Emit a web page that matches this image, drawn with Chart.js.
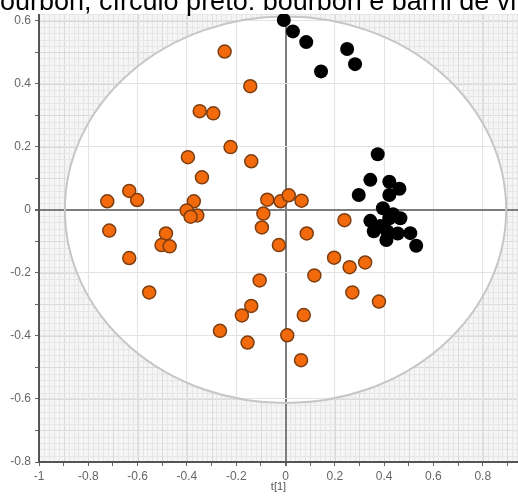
<!DOCTYPE html>
<html>
<head>
<meta charset="utf-8">
<script src="https://cdn.jsdelivr.net/npm/chart.js@4/dist/chart.umd.min.js"></script>
<style>
    html, body { margin: 0; padding: 0; background: #fff; overflow: hidden; }
    #wrap { position: relative; width: 518px; height: 496px; }
    #caption {
        position: absolute; left: -15px; top: -11px;
        font-family: "Liberation Sans", Arial, sans-serif; font-size: 27px; line-height: 25px;
        color: #000; white-space: nowrap; background: #fff; z-index: 2;
    }
</style>
</head>
<body>
<div id="wrap">
    <div id="caption">bourbon, círculo preto: bourbon e barril de vinho</div>
    <canvas id="scoreChart"></canvas>
</div>
<script>
// orange circles: bourbon
const orangeX = [-0.247, -0.143, -0.348, -0.293, -0.223, -0.396, -0.139, -0.339, -0.634, -0.602,
    -0.723, -0.372, -0.401, -0.358, -0.385, -0.074, -0.020, 0.013, 0.065, -0.090,
    -0.096, -0.027, -0.715, -0.485, -0.503, -0.470, -0.634, -0.553, -0.105, -0.139,
    -0.177, -0.266, -0.154, 0.007, 0.086, 0.239, 0.197, 0.260, 0.323, 0.117,
    0.271, 0.379, 0.074, 0.063];
const orangeY = [0.502, 0.392, 0.313, 0.306, 0.199, 0.167, 0.154, 0.103, 0.060, 0.031,
    0.027, 0.027, -0.002, -0.018, -0.022, 0.032, 0.027, 0.046, 0.029, -0.012,
    -0.056, -0.112, -0.066, -0.075, -0.112, -0.116, -0.153, -0.262, -0.224, -0.305,
    -0.335, -0.384, -0.421, -0.398, -0.075, -0.033, -0.152, -0.182, -0.167, -0.208,
    -0.262, -0.291, -0.334, -0.477];

// black circles: bourbon e barril de vinho
const blackX = [-0.007, 0.030, 0.084, 0.250, 0.282, 0.144, 0.374, 0.344, 0.421, 0.462,
    0.421, 0.297, 0.395, 0.436, 0.466, 0.344, 0.385, 0.358, 0.412, 0.455,
    0.506, 0.409, 0.530, 0.421];
const blackY = [0.602, 0.566, 0.532, 0.510, 0.462, 0.439, 0.176, 0.095, 0.089, 0.067,
    0.047, 0.047, 0.005, -0.014, -0.027, -0.035, -0.051, -0.068, -0.068, -0.075,
    -0.074, -0.096, -0.114, -0.027];

// Hotelling ellipse half axes
const ellipseRX = 0.895;
const ellipseRY = 0.613;

const toPoints = (xs, ys) => xs.map((x, i) => ({ x: x, y: ys[i] }));
const fmt = (v) => String(Number(v.toFixed(1)));
const isMajor = (v) => Math.round(v * 10) % 2 === 0;

const ellipseBackdrop = {
    id: 'ellipseBackdrop',
    beforeDraw(chart) {
        const { ctx, chartArea: a, scales: { x, y } } = chart;
        ctx.save();
        ctx.beginPath();
        ctx.rect(a.left, a.top, a.right - a.left, a.bottom - a.top);
        ctx.clip();
        ctx.fillStyle = '#f5f5f5';
        ctx.fillRect(a.left, a.top, a.right - a.left, a.bottom - a.top);
        ctx.lineWidth = 1;
        for (let i = -60; i <= 60; i++) {
            ctx.strokeStyle = i % 5 === 0 ? '#dadada' : '#e6e6e6';
            const px = Math.round(x.getPixelForValue(i * 0.02)) + 0.5;
            const py = Math.round(y.getPixelForValue(i * 0.02)) + 0.5;
            ctx.beginPath();
            ctx.moveTo(px, a.top); ctx.lineTo(px, a.bottom);
            ctx.moveTo(a.left, py); ctx.lineTo(a.right, py);
            ctx.stroke();
        }
        const cx = x.getPixelForValue(0), cy = y.getPixelForValue(0);
        ctx.beginPath();
        ctx.ellipse(cx, cy, x.getPixelForValue(ellipseRX) - cx, cy - y.getPixelForValue(ellipseRY), 0, 0, Math.PI * 2);
        ctx.fillStyle = '#fff';
        ctx.fill();
        ctx.restore();
    },
    beforeDatasetsDraw(chart) {
        const { ctx, chartArea: a, scales: { x, y } } = chart;
        const cx = x.getPixelForValue(0), cy = y.getPixelForValue(0);
        ctx.save();
        ctx.beginPath();
        ctx.rect(a.left, a.top, a.right - a.left, a.bottom - a.top);
        ctx.clip();
        ctx.beginPath();
        ctx.ellipse(cx, cy, x.getPixelForValue(ellipseRX) - cx, cy - y.getPixelForValue(ellipseRY), 0, 0, Math.PI * 2);
        ctx.strokeStyle = '#c6c6c6';
        ctx.lineWidth = 2;
        ctx.stroke();
        ctx.restore();
    }
};

const gridOpts = {
    color: (c) => {
        const v = c.tick ? c.tick.value : 1;
        if (Math.abs(v) < 1e-9) return '#7d7d7d';
        return isMajor(v) ? '#e3e3e3' : 'rgba(0,0,0,0)';
    },
    lineWidth: (c) => (c.tick && Math.abs(c.tick.value) < 1e-9 ? 2 : 1),
    tickColor: '#666',
    tickLength: 4,
    drawTicks: true
};

const tickFont = { family: 'Liberation Sans', size: 12 };

new Chart(document.getElementById('scoreChart'), {
    type: 'scatter',
    data: {
        datasets: [{
            label: 'bourbon',
            data: toPoints(orangeX, orangeY),
            backgroundColor: '#f26a0c',
            borderColor: '#7d3e12',
            borderWidth: 1.5,
            pointRadius: 6.5
        }, {
            label: 'bourbon e barril de vinho',
            data: toPoints(blackX, blackY),
            backgroundColor: '#000',
            borderColor: '#000',
            borderWidth: 0,
            pointRadius: 7
        }]
    },
    options: {
        responsive: true,
        maintainAspectRatio: false,
        animation: false,
        events: [],
        layout: { autoPadding: false, padding: { top: 11, left: 0, right: 0, bottom: 0 } },
        plugins: { legend: { display: false }, tooltip: { enabled: false } },
        scales: {
            x: {
                min: -1, max: 0.943,
                afterFit: (s) => { s.height = 34; s.paddingRight = 0; },
                border: { color: '#555', width: 2 },
                grid: gridOpts,
                ticks: {
                    stepSize: 0.1, includeBounds: false, autoSkip: false, maxRotation: 0,
                    padding: 3, color: '#666', font: tickFont,
                    callback: (v) => (isMajor(v) ? fmt(v) : '')
                },
                title: {
                    display: true, text: 't[1]', color: '#555',
                    font: { family: 'Liberation Sans', size: 11 }, padding: { top: 0, bottom: 2 }
                }
            },
            y: {
                min: -0.8, max: 0.63,
                afterFit: (s) => { s.width = 39; },
                border: { color: '#555', width: 2 },
                grid: gridOpts,
                ticks: {
                    stepSize: 0.1, includeBounds: false, autoSkip: false,
                    padding: 4, color: '#666', font: tickFont,
                    callback: (v) => (isMajor(v) ? fmt(v) : '')
                }
            }
        }
    },
    plugins: [ellipseBackdrop]
});
</script>
</body>
</html>
